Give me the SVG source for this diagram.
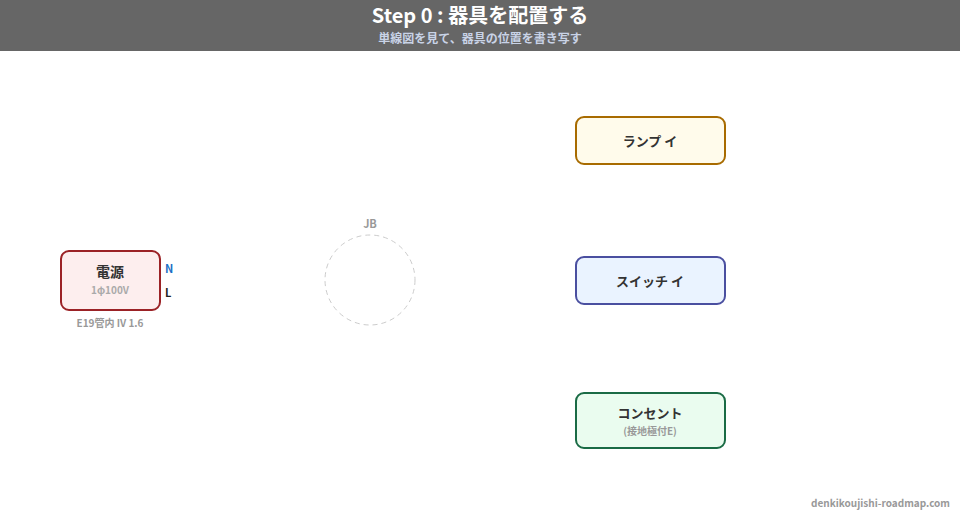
<svg xmlns="http://www.w3.org/2000/svg" width="960" height="520" viewBox="0 0 960 520">
<style>
text{font-family:"Noto Sans CJK JP","Noto Sans",sans-serif}
.title{font-size:20px;font-weight:700;fill:#fff}
.sub{font-size:12px;font-weight:700;fill:#c9d3e6}
.lbl{font-size:13px;font-weight:700;fill:#333}
.small{font-size:10px;font-weight:700;fill:#999}
.box{stroke-width:2}
</style>
<rect x="0" y="0" width="960" height="520" fill="#fff"/>
<g id="header">
<rect x="0" y="0" width="960" height="51" fill="#666"/>
<text class="title" x="480" y="23" text-anchor="middle">Step 0 : 器具を配置する</text>
<text class="sub" x="480" y="43" text-anchor="middle">単線図を見て、器具の位置を書き写す</text>
</g>
<g id="connectors"></g>
<g id="power">
<rect class="box" x="61" y="251" width="99" height="59" rx="8" fill="#fdeeee" stroke="#9b2226"/>
<text x="110" y="277" text-anchor="middle" style="font-size:14px;font-weight:700;fill:#333">電源</text>
<text class="small" x="110" y="294" text-anchor="middle" style="fill:#aaa">1φ100V</text>
<text x="165" y="273" style="font-size:11px;font-weight:700;fill:#1a6fc4">N</text>
<text x="165" y="297" style="font-size:11px;font-weight:700;fill:#222">L</text>
<text class="small" x="110" y="327" text-anchor="middle">E19管内 IV 1.6</text>
</g>
<g id="jb">
<circle cx="370" cy="280" r="45" fill="none" stroke="#ccc" stroke-width="1" stroke-dasharray="5,4"/>
<text x="370" y="228" text-anchor="middle" style="font-size:11px;font-weight:700;fill:#999">JB</text>
</g>
<g id="lamp">
<rect class="box" x="576" y="117" width="149" height="47" rx="8" fill="#fffbeb" stroke="#a86b00"/>
<text class="lbl" x="650" y="146" text-anchor="middle">ランプ イ</text>
</g>
<g id="switch">
<rect class="box" x="576" y="257" width="149" height="47" rx="8" fill="#eaf3ff" stroke="#4a4fa0"/>
<text class="lbl" x="650" y="286" text-anchor="middle">スイッチ イ</text>
</g>
<g id="outlet">
<rect class="box" x="576" y="393" width="149" height="55" rx="8" fill="#eafcef" stroke="#1a6b45"/>
<text class="lbl" x="650" y="418" text-anchor="middle">コンセント</text>
<text class="small" x="650" y="435" text-anchor="middle">(接地極付E)</text>
</g>
<text class="small" x="950" y="507" text-anchor="end">denkikoujishi-roadmap.com</text>
</svg>
